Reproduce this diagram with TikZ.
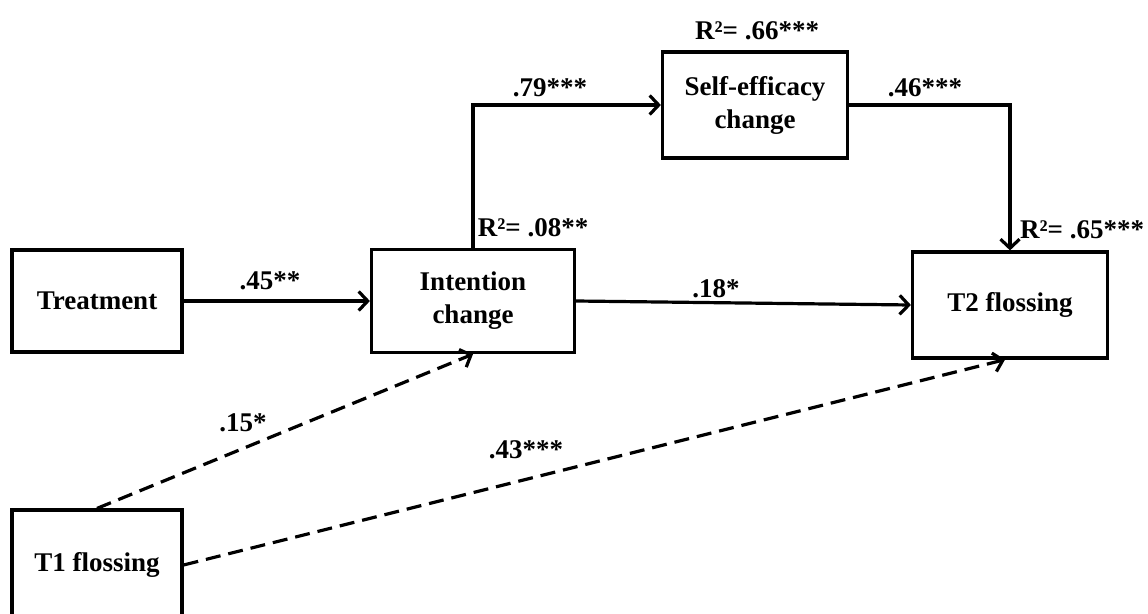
\documentclass[tikz,border=0pt]{standalone}
\usepackage{fontspec}
\setmainfont{Liberation Serif}
\usetikzlibrary{arrows.meta}
\begin{document}
\begin{tikzpicture}[x=1pt,y=-1pt,
  every node/.style={font=\fontsize{27}{33}\selectfont\bfseries},
  box/.style={draw, line width=3.2pt, align=center, inner sep=0pt},
  lbl/.style={inner sep=0pt},
  conn/.style={line width=3.2pt, -{Straight Barb[length=9pt,width=19pt]}},
  dconn/.style={conn, dash pattern=on 15pt off 8pt}]
\useasboundingbox (0,0) rectangle (1148,613);
\clip (0,0) rectangle (1148,613);
\fill[white] (0,0) rectangle (1148,613);
% boxes
\node[box, minimum width=170pt, minimum height=102pt] (treat) at (97,301) {Treatment};
\node[box, minimum width=203pt, minimum height=103pt] (int) at (473,301) {Intention\\change};
\node[box, minimum width=185pt, minimum height=106pt] (se) at (755,105) {Self-efficacy\\change};
\node[box, minimum width=195pt, minimum height=106pt] (t2) at (1010,305) {T2 flossing};
\node[box, minimum width=170pt, minimum height=110pt] (t1) at (97,565) {T1 flossing};
% connectors
\draw[conn] (treat.east) -- (int.west);
\draw[conn] (int.east) -- (t2.west);
\draw[conn] (int.north) |- (se.west);
\draw[conn] (se.east) -| (t2.north);
\draw[dconn] (t1.north) -- (int.south);
\draw[dconn] (t1.east) -- ([xshift=-5pt]t2.south);
% labels
\node[lbl] (l45) at (270,281) {.45**};
\node[lbl] (l18) at (716,289) {.18*};
\node[lbl] (l79) at (550,88) {.79***};
\node[lbl] (l46) at (925,88) {.46***};
\node[lbl] (r66) at (757,31) {R²= .66***};
\node[lbl] (r08) at (533,228) {R²= .08**};
\node[lbl] (r65) at (1082,230) {R²= .65***};
\node[lbl] (l15) at (243,423) {.15*};
\node[lbl] (l43) at (526,450) {.43***};
\end{tikzpicture}
\end{document}
